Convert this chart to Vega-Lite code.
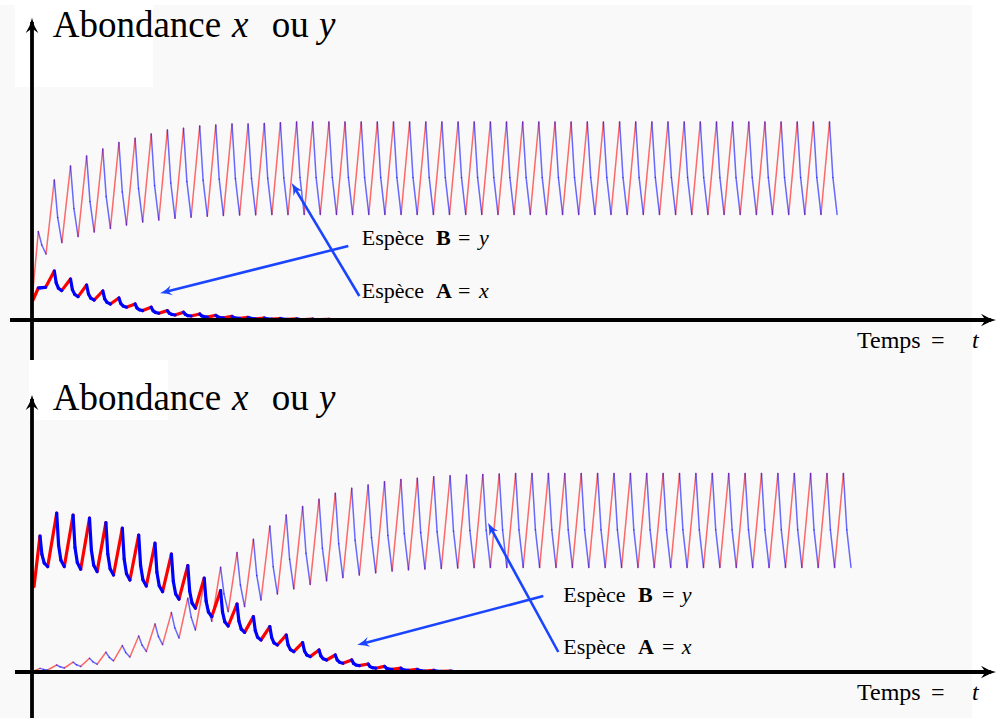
{
"$schema":"https://vega.github.io/schema/vega-lite/v6.json",
"background":"#f9f9f9",
"padding":0,
"spacing":0,
"bounds":"flush",
"config":{"view":{"stroke":null}},
"datasets":{
"top":[
{"s":"B","a":0.1,"b":15,"c":0.63,"d":44.2,"e":0.98,"f":37.5,"g":1.4,"h":33},
{"s":"B","a":1.4,"b":33,"c":2.23,"d":70,"e":2.57,"f":51.2,"g":2.99,"h":38.7},
{"s":"B","a":2.99,"b":38.7,"c":3.85,"d":77,"e":4.19,"f":55.8,"g":4.61,"h":41.7},
{"s":"B","a":4.61,"b":41.7,"c":5.46,"d":82,"e":5.8,"f":59.2,"g":6.22,"h":44},
{"s":"B","a":6.22,"b":44,"c":7.08,"d":85.5,"e":7.42,"f":61.7,"g":7.84,"h":45.8},
{"s":"B","a":7.84,"b":45.8,"c":8.69,"d":88.7,"e":9.03,"f":64,"g":9.45,"h":47.5},
{"s":"B","a":9.45,"b":47.5,"c":10.31,"d":90.9,"e":10.65,"f":65.8,"g":11.07,"h":49},
{"s":"B","a":11.07,"b":49,"c":11.92,"d":93,"e":12.26,"f":67.2,"g":12.68,"h":50},
{"s":"B","a":12.68,"b":50,"c":13.54,"d":95,"e":13.88,"f":68.5,"g":14.3,"h":50.9},
{"s":"B","a":14.3,"b":50.9,"c":15.15,"d":95.9,"e":15.49,"f":69.2,"g":15.91,"h":51.4},
{"s":"B","a":15.91,"b":51.4,"c":16.77,"d":97,"e":17.11,"f":69.9,"g":17.53,"h":51.9},
{"s":"B","a":17.53,"b":51.9,"c":18.38,"d":97.5,"e":18.72,"f":70.4,"g":19.14,"h":52.3},
{"s":"B","a":19.14,"b":52.3,"c":20,"d":98,"e":20.34,"f":70.7,"g":20.76,"h":52.5},
{"s":"B","a":20.76,"b":52.5,"c":21.61,"d":98,"e":21.95,"f":70.8,"g":22.37,"h":52.6},
{"s":"B","a":22.37,"b":52.6,"c":23.23,"d":98.3,"e":23.57,"f":70.9,"g":23.99,"h":52.7},
{"s":"B","a":23.99,"b":52.7,"c":24.84,"d":98.6,"e":25.18,"f":71.1,"g":25.6,"h":52.7},
{"s":"B","a":25.6,"b":52.7,"c":26.46,"d":99,"e":26.8,"f":71.3,"g":27.22,"h":52.8},
{"s":"B","a":27.22,"b":52.8,"c":28.07,"d":99,"e":28.41,"f":71.3,"g":28.83,"h":52.8},
{"s":"B","a":28.83,"b":52.8,"c":29.69,"d":99,"e":30.03,"f":71.3,"g":30.45,"h":52.8},
{"s":"B","a":30.45,"b":52.8,"c":31.3,"d":99,"e":31.64,"f":71.3,"g":32.06,"h":52.8},
{"s":"B","a":32.06,"b":52.8,"c":32.92,"d":99,"e":33.26,"f":71.3,"g":33.68,"h":52.8},
{"s":"B","a":33.68,"b":52.8,"c":34.53,"d":99,"e":34.87,"f":71.3,"g":35.29,"h":52.8},
{"s":"B","a":35.29,"b":52.8,"c":36.15,"d":99,"e":36.49,"f":71.3,"g":36.91,"h":52.8},
{"s":"B","a":36.91,"b":52.8,"c":37.76,"d":99,"e":38.1,"f":71.3,"g":38.52,"h":52.8},
{"s":"B","a":38.52,"b":52.8,"c":39.38,"d":99,"e":39.72,"f":71.3,"g":40.14,"h":52.8},
{"s":"B","a":40.14,"b":52.8,"c":40.99,"d":99,"e":41.33,"f":71.3,"g":41.75,"h":52.8},
{"s":"B","a":41.75,"b":52.8,"c":42.61,"d":99,"e":42.95,"f":71.3,"g":43.37,"h":52.8},
{"s":"B","a":43.37,"b":52.8,"c":44.22,"d":99,"e":44.56,"f":71.3,"g":44.98,"h":52.8},
{"s":"B","a":44.98,"b":52.8,"c":45.84,"d":99,"e":46.18,"f":71.3,"g":46.6,"h":52.8},
{"s":"B","a":46.6,"b":52.8,"c":47.45,"d":99,"e":47.79,"f":71.3,"g":48.21,"h":52.8},
{"s":"B","a":48.21,"b":52.8,"c":49.07,"d":99,"e":49.41,"f":71.3,"g":49.83,"h":52.8},
{"s":"B","a":49.83,"b":52.8,"c":50.68,"d":99,"e":51.02,"f":71.3,"g":51.44,"h":52.8},
{"s":"B","a":51.44,"b":52.8,"c":52.3,"d":99,"e":52.64,"f":71.3,"g":53.06,"h":52.8},
{"s":"B","a":53.06,"b":52.8,"c":53.91,"d":99,"e":54.25,"f":71.3,"g":54.67,"h":52.8},
{"s":"B","a":54.67,"b":52.8,"c":55.53,"d":99,"e":55.87,"f":71.3,"g":56.29,"h":52.8},
{"s":"B","a":56.29,"b":52.8,"c":57.14,"d":99,"e":57.48,"f":71.3,"g":57.9,"h":52.8},
{"s":"B","a":57.9,"b":52.8,"c":58.76,"d":99,"e":59.1,"f":71.3,"g":59.52,"h":52.8},
{"s":"B","a":59.52,"b":52.8,"c":60.37,"d":99,"e":60.71,"f":71.3,"g":61.13,"h":52.8},
{"s":"B","a":61.13,"b":52.8,"c":61.99,"d":99,"e":62.33,"f":71.3,"g":62.75,"h":52.8},
{"s":"B","a":62.75,"b":52.8,"c":63.6,"d":99,"e":63.94,"f":71.3,"g":64.36,"h":52.8},
{"s":"B","a":64.36,"b":52.8,"c":65.22,"d":99,"e":65.56,"f":71.3,"g":65.98,"h":52.8},
{"s":"B","a":65.98,"b":52.8,"c":66.83,"d":99,"e":67.17,"f":71.3,"g":67.59,"h":52.8},
{"s":"B","a":67.59,"b":52.8,"c":68.45,"d":99,"e":68.79,"f":71.3,"g":69.21,"h":52.8},
{"s":"B","a":69.21,"b":52.8,"c":70.06,"d":99,"e":70.4,"f":71.3,"g":70.82,"h":52.8},
{"s":"B","a":70.82,"b":52.8,"c":71.68,"d":99,"e":72.02,"f":71.3,"g":72.44,"h":52.8},
{"s":"B","a":72.44,"b":52.8,"c":73.29,"d":99,"e":73.63,"f":71.3,"g":74.05,"h":52.8},
{"s":"B","a":74.05,"b":52.8,"c":74.91,"d":99,"e":75.25,"f":71.3,"g":75.67,"h":52.8},
{"s":"B","a":75.67,"b":52.8,"c":76.52,"d":99,"e":76.86,"f":71.3,"g":77.28,"h":52.8},
{"s":"B","a":77.28,"b":52.8,"c":78.14,"d":99,"e":78.48,"f":71.3,"g":78.9,"h":52.8},
{"s":"B","a":78.9,"b":52.8,"c":79.75,"d":99,"e":80.09,"f":71.3,"g":80.51,"h":52.8},
{"s":"A","a":0.1,"b":10,"c":0.63,"d":16,"e":0.81,"f":16.1,"i":1.03,"j":16.2,"g":1.35,"h":16.3},
{"s":"A","a":1.35,"b":16.3,"c":2.23,"d":24.5,"e":2.42,"f":18.6,"i":2.64,"j":15.9,"g":2.97,"h":14.7},
{"s":"A","a":2.97,"b":14.7,"c":3.85,"d":20.5,"e":4.04,"f":15.2,"i":4.27,"j":12.8,"g":4.61,"h":11.7},
{"s":"A","a":4.61,"b":11.7,"c":5.46,"d":17.5,"e":5.65,"f":13,"i":5.88,"j":10.9,"g":6.22,"h":10},
{"s":"A","a":6.22,"b":10,"c":7.08,"d":14.5,"e":7.27,"f":10.6,"i":7.5,"j":8.8,"g":7.84,"h":8},
{"s":"A","a":7.84,"b":8,"c":8.69,"d":11,"e":8.88,"f":8.2,"i":9.11,"j":7,"g":9.45,"h":6.4},
{"s":"A","a":9.45,"b":6.4,"c":10.31,"d":8,"e":10.5,"f":6,"i":10.73,"j":5.1,"g":11.07,"h":4.7},
{"s":"A","a":11.07,"b":4.7,"c":11.92,"d":6.4,"e":12.11,"f":4.6,"i":12.34,"j":3.8,"g":12.68,"h":3.4},
{"s":"A","a":12.68,"b":3.4,"c":13.54,"d":4.7,"e":13.73,"f":3.4,"i":13.96,"j":2.8,"g":14.3,"h":2.5},
{"s":"A","a":14.3,"b":2.5,"c":15.15,"d":3.9,"e":15.34,"f":2.8,"i":15.57,"j":2.2,"g":15.91,"h":2},
{"s":"A","a":15.91,"b":2,"c":16.77,"d":3,"e":16.96,"f":2.1,"i":17.19,"j":1.7,"g":17.53,"h":1.5},
{"s":"A","a":17.53,"b":1.5,"c":18.38,"d":2.3,"e":18.57,"f":1.6,"i":18.8,"j":1.2,"g":19.14,"h":1.1},
{"s":"A","a":19.14,"b":1.1,"c":20,"d":1.8,"e":20.19,"f":1.2,"i":20.42,"j":0.9,"g":20.76,"h":0.8},
{"s":"A","a":20.76,"b":0.8,"c":21.61,"d":1.3,"e":21.8,"f":0.9,"i":22.03,"j":0.7,"g":22.37,"h":0.6},
{"s":"A","a":22.37,"b":0.6,"c":23.23,"d":1,"e":23.42,"f":0.6,"i":23.65,"j":0.5,"g":23.99,"h":0.4},
{"s":"A","a":23.99,"b":0.4,"c":24.84,"d":0.75,"e":25.03,"f":0.5,"i":25.26,"j":0.35,"g":25.6,"h":0.3},
{"s":"A","a":25.6,"b":0.3,"c":26.46,"d":0.55,"e":26.65,"f":0.35,"i":26.88,"j":0.25,"g":27.22,"h":0.2},
{"s":"A","a":27.22,"b":0.2,"c":28.07,"d":0.4,"e":28.26,"f":0.25,"i":28.49,"j":0.18,"g":28.83,"h":0.15},
{"s":"A","a":28.83,"b":0.15,"c":29.69,"d":0.3,"e":29.88,"f":0.18,"i":30.11,"j":0.12,"g":30.45,"h":0.1}
],
"bot":[
{"s":"B","a":0.2,"b":0.5,"c":0.8,"d":1.8,"e":1.15,"f":1.3,"g":1.57,"h":1},
{"s":"B","a":1.57,"b":1,"c":2.47,"d":3.5,"e":2.81,"f":2.6,"g":3.23,"h":2},
{"s":"B","a":3.23,"b":2,"c":4.11,"d":4.9,"e":4.45,"f":3.6,"g":4.87,"h":2.8},
{"s":"B","a":4.87,"b":2.8,"c":5.75,"d":6.9,"e":6.09,"f":5.1,"g":6.51,"h":3.9},
{"s":"B","a":6.51,"b":3.9,"c":7.39,"d":9.9,"e":7.73,"f":7.3,"g":8.15,"h":5.6},
{"s":"B","a":8.15,"b":5.6,"c":9.03,"d":13.2,"e":9.37,"f":9.8,"g":9.79,"h":7.5},
{"s":"B","a":9.79,"b":7.5,"c":10.67,"d":18,"e":11.01,"f":13.4,"g":11.43,"h":10.3},
{"s":"B","a":11.43,"b":10.3,"c":12.3,"d":24,"e":12.64,"f":17.8,"g":13.06,"h":13.7},
{"s":"B","a":13.06,"b":13.7,"c":13.94,"d":29.7,"e":14.28,"f":22.1,"g":14.7,"h":17},
{"s":"B","a":14.7,"b":17,"c":15.58,"d":36.9,"e":15.92,"f":27.4,"g":16.34,"h":21},
{"s":"B","a":16.34,"b":21,"c":17.22,"d":44.5,"e":17.56,"f":33,"g":17.98,"h":25.4},
{"s":"B","a":17.98,"b":25.4,"c":18.86,"d":52.4,"e":19.2,"f":39.1,"g":19.62,"h":30.2},
{"s":"B","a":19.62,"b":30.2,"c":20.5,"d":59.7,"e":20.84,"f":43.5,"g":21.26,"h":32.7},
{"s":"B","a":21.26,"b":32.7,"c":22.14,"d":66.4,"e":22.48,"f":48.2,"g":22.9,"h":36},
{"s":"B","a":22.9,"b":36,"c":23.78,"d":73,"e":24.12,"f":52.6,"g":24.54,"h":39},
{"s":"B","a":24.54,"b":39,"c":25.42,"d":78.5,"e":25.76,"f":56.4,"g":26.18,"h":41.6},
{"s":"B","a":26.18,"b":41.6,"c":27.06,"d":82.7,"e":27.4,"f":59.4,"g":27.82,"h":43.8},
{"s":"B","a":27.82,"b":43.8,"c":28.7,"d":86.4,"e":29.04,"f":61.9,"g":29.46,"h":45.6},
{"s":"B","a":29.46,"b":45.6,"c":30.33,"d":89.4,"e":30.67,"f":64.1,"g":31.09,"h":47.2},
{"s":"B","a":31.09,"b":47.2,"c":31.97,"d":91.9,"e":32.31,"f":65.9,"g":32.73,"h":48.5},
{"s":"B","a":32.73,"b":48.5,"c":33.61,"d":93.5,"e":33.95,"f":67.2,"g":34.37,"h":49.6},
{"s":"B","a":34.37,"b":49.6,"c":35.25,"d":95.1,"e":35.59,"f":68.3,"g":36.01,"h":50.5},
{"s":"B","a":36.01,"b":50.5,"c":36.89,"d":96.3,"e":37.23,"f":69.2,"g":37.65,"h":51.1},
{"s":"B","a":37.65,"b":51.1,"c":38.53,"d":96.9,"e":38.87,"f":69.7,"g":39.29,"h":51.5},
{"s":"B","a":39.29,"b":51.5,"c":40.17,"d":97.6,"e":40.51,"f":70.1,"g":40.93,"h":51.8},
{"s":"B","a":40.93,"b":51.8,"c":41.81,"d":98.1,"e":42.15,"f":70.4,"g":42.57,"h":52},
{"s":"B","a":42.57,"b":52,"c":43.45,"d":98.5,"e":43.79,"f":70.7,"g":44.21,"h":52.2},
{"s":"B","a":44.21,"b":52.2,"c":45.08,"d":98.8,"e":45.42,"f":70.9,"g":45.84,"h":52.3},
{"s":"B","a":45.84,"b":52.3,"c":46.72,"d":99,"e":47.06,"f":71,"g":47.48,"h":52.3},
{"s":"B","a":47.48,"b":52.3,"c":48.36,"d":99.2,"e":48.7,"f":71.1,"g":49.12,"h":52.3},
{"s":"B","a":49.12,"b":52.3,"c":50,"d":99.3,"e":50.34,"f":71.1,"g":50.76,"h":52.3},
{"s":"B","a":50.76,"b":52.3,"c":51.64,"d":99.3,"e":51.98,"f":71.1,"g":52.4,"h":52.3},
{"s":"B","a":52.4,"b":52.3,"c":53.28,"d":99.3,"e":53.62,"f":71.1,"g":54.04,"h":52.3},
{"s":"B","a":54.04,"b":52.3,"c":54.92,"d":99.3,"e":55.26,"f":71.1,"g":55.68,"h":52.3},
{"s":"B","a":55.68,"b":52.3,"c":56.56,"d":99.3,"e":56.9,"f":71.1,"g":57.32,"h":52.3},
{"s":"B","a":57.32,"b":52.3,"c":58.2,"d":99.3,"e":58.54,"f":71.1,"g":58.96,"h":52.3},
{"s":"B","a":58.96,"b":52.3,"c":59.84,"d":99.3,"e":60.18,"f":71.1,"g":60.6,"h":52.3},
{"s":"B","a":60.6,"b":52.3,"c":61.47,"d":99.3,"e":61.81,"f":71.1,"g":62.23,"h":52.3},
{"s":"B","a":62.23,"b":52.3,"c":63.11,"d":99.3,"e":63.45,"f":71.1,"g":63.87,"h":52.3},
{"s":"B","a":63.87,"b":52.3,"c":64.75,"d":99.3,"e":65.09,"f":71.1,"g":65.51,"h":52.3},
{"s":"B","a":65.51,"b":52.3,"c":66.39,"d":99.3,"e":66.73,"f":71.1,"g":67.15,"h":52.3},
{"s":"B","a":67.15,"b":52.3,"c":68.03,"d":99.3,"e":68.37,"f":71.1,"g":68.79,"h":52.3},
{"s":"B","a":68.79,"b":52.3,"c":69.67,"d":99.3,"e":70.01,"f":71.1,"g":70.43,"h":52.3},
{"s":"B","a":70.43,"b":52.3,"c":71.31,"d":99.3,"e":71.65,"f":71.1,"g":72.07,"h":52.3},
{"s":"B","a":72.07,"b":52.3,"c":72.95,"d":99.3,"e":73.29,"f":71.1,"g":73.71,"h":52.3},
{"s":"B","a":73.71,"b":52.3,"c":74.59,"d":99.3,"e":74.93,"f":71.1,"g":75.35,"h":52.3},
{"s":"B","a":75.35,"b":52.3,"c":76.23,"d":99.3,"e":76.57,"f":71.1,"g":76.99,"h":52.3},
{"s":"B","a":76.99,"b":52.3,"c":77.86,"d":99.3,"e":78.2,"f":71.1,"g":78.62,"h":52.3},
{"s":"B","a":78.62,"b":52.3,"c":79.5,"d":99.3,"e":79.84,"f":71.1,"g":80.26,"h":52.3},
{"s":"B","a":80.26,"b":52.3,"c":81.14,"d":99.3,"e":81.48,"f":71.1,"g":81.9,"h":52.3},
{"s":"A","a":0.2,"b":42.7,"c":0.8,"d":68,"e":0.99,"f":58.8,"i":1.22,"j":54.5,"g":1.57,"h":52.7},
{"s":"A","a":1.57,"b":52.7,"c":2.47,"d":79.4,"e":2.66,"f":63.4,"i":2.89,"j":55.9,"g":3.23,"h":52.7},
{"s":"A","a":3.23,"b":52.7,"c":4.11,"d":78.5,"e":4.3,"f":62.2,"i":4.53,"j":54.7,"g":4.87,"h":51.4},
{"s":"A","a":4.87,"b":51.4,"c":5.75,"d":76.9,"e":5.94,"f":60.9,"i":6.17,"j":53.4,"g":6.51,"h":50.2},
{"s":"A","a":6.51,"b":50.2,"c":7.39,"d":74.7,"e":7.58,"f":59,"i":7.81,"j":51.6,"g":8.15,"h":48.5},
{"s":"A","a":8.15,"b":48.5,"c":9.03,"d":71.9,"e":9.22,"f":56.4,"i":9.45,"j":49.1,"g":9.79,"h":46},
{"s":"A","a":9.79,"b":46,"c":10.67,"d":68.5,"e":10.86,"f":53.2,"i":11.09,"j":46.1,"g":11.43,"h":43},
{"s":"A","a":11.43,"b":43,"c":12.3,"d":64.4,"e":12.49,"f":49.9,"i":12.72,"j":43.1,"g":13.06,"h":40.2},
{"s":"A","a":13.06,"b":40.2,"c":13.94,"d":59,"e":14.13,"f":45.4,"i":14.36,"j":39.1,"g":14.7,"h":36.4},
{"s":"A","a":14.7,"b":36.4,"c":15.58,"d":53.2,"e":15.77,"f":40.4,"i":16,"j":34.5,"g":16.34,"h":31.9},
{"s":"A","a":16.34,"b":31.9,"c":17.22,"d":46.9,"e":17.41,"f":35.4,"i":17.64,"j":30,"g":17.98,"h":27.7},
{"s":"A","a":17.98,"b":27.7,"c":18.86,"d":40.7,"e":19.05,"f":30.1,"i":19.28,"j":25.1,"g":19.62,"h":23},
{"s":"A","a":19.62,"b":23,"c":20.5,"d":34,"e":20.69,"f":25.5,"i":20.92,"j":21.5,"g":21.26,"h":19.8},
{"s":"A","a":21.26,"b":19.8,"c":22.14,"d":27.7,"e":22.33,"f":20.7,"i":22.56,"j":17.4,"g":22.9,"h":16},
{"s":"A","a":22.9,"b":16,"c":23.78,"d":22.7,"e":23.97,"f":17.2,"i":24.2,"j":14.6,"g":24.54,"h":13.5},
{"s":"A","a":24.54,"b":13.5,"c":25.42,"d":18.5,"e":25.61,"f":13.5,"i":25.84,"j":11.2,"g":26.18,"h":10.2},
{"s":"A","a":26.18,"b":10.2,"c":27.06,"d":14.7,"e":27.25,"f":10.5,"i":27.48,"j":8.5,"g":27.82,"h":7.7},
{"s":"A","a":27.82,"b":7.7,"c":28.7,"d":11,"e":28.89,"f":8,"i":29.12,"j":6.6,"g":29.46,"h":6},
{"s":"A","a":29.46,"b":6,"c":30.33,"d":8.5,"e":30.52,"f":6,"i":30.75,"j":4.9,"g":31.09,"h":4.4},
{"s":"A","a":31.09,"b":4.4,"c":31.97,"d":6,"e":32.16,"f":4.3,"i":32.39,"j":3.5,"g":32.73,"h":3.2},
{"s":"A","a":32.73,"b":3.2,"c":33.61,"d":4,"e":33.8,"f":2.7,"i":34.03,"j":2.2,"g":34.37,"h":1.9},
{"s":"A","a":34.37,"b":1.9,"c":35.25,"d":2.8,"e":35.44,"f":1.9,"i":35.67,"j":1.5,"g":36.01,"h":1.3},
{"s":"A","a":36.01,"b":1.3,"c":36.89,"d":1.9,"e":37.08,"f":1.2,"i":37.31,"j":0.9,"g":37.65,"h":0.8},
{"s":"A","a":37.65,"b":0.8,"c":38.53,"d":1.3,"e":38.72,"f":0.8,"i":38.95,"j":0.6,"g":39.29,"h":0.5},
{"s":"A","a":39.29,"b":0.5,"c":40.17,"d":0.8,"e":40.36,"f":0.5,"i":40.59,"j":0.36,"g":40.93,"h":0.3},
{"s":"A","a":40.93,"b":0.3,"c":41.81,"d":0.5,"e":42,"f":0.29,"i":42.23,"j":0.2,"g":42.57,"h":0.15}
]
},
"vconcat":[
{
"width":1002,"height":360,
"layer":[
{"data":{"values":[{"a":-1.7,"b":116.5,"c":12.1,"d":157.5},{"a":-3.2,"b":157.5,"c":97,"d":160},{"a":94,"b":-20,"c":97,"d":160}]},
 "mark":{"type":"rect","fill":"#ffffff"},
 "encoding":{"x":{"field":"a","type":"quantitative","scale":{"domain":[-3.2,97],"nice":false,"zero":false},"axis":null},"x2":{"field":"c"},
 "y":{"field":"b","type":"quantitative","scale":{"domain":[-20,160],"nice":false,"zero":false},"axis":null},"y2":{"field":"d"}}},
{"data":{"name":"top"},"mark":{"type":"rule","color":"#ff0000","strokeCap":"round"},
 "encoding":{"x":{"field":"a","type":"quantitative","scale":{"domain":[-3.2,97],"nice":false,"zero":false},"axis":null},"x2":{"field":"c"},
 "y":{"field":"b","type":"quantitative","scale":{"domain":[-20,160],"nice":false,"zero":false},"axis":null},"y2":{"field":"d"},
 "strokeWidth":{"field":"s","type":"ordinal","scale":{"domain":["A","B"],"range":[3.2,1.5]},"legend":null},
 "opacity":{"field":"s","type":"ordinal","scale":{"domain":["A","B"],"range":[1,0.58]},"legend":null}}},
{"data":{"name":"top"},"mark":{"type":"rule","color":"#0000ff","strokeCap":"round"},
 "encoding":{"x":{"field":"c","type":"quantitative","scale":{"domain":[-3.2,97],"nice":false,"zero":false},"axis":null},"x2":{"field":"e"},
 "y":{"field":"d","type":"quantitative","scale":{"domain":[-20,160],"nice":false,"zero":false},"axis":null},"y2":{"field":"f"},
 "strokeWidth":{"field":"s","type":"ordinal","scale":{"domain":["A","B"],"range":[3.2,1.5]},"legend":null},
 "opacity":{"field":"s","type":"ordinal","scale":{"domain":["A","B"],"range":[1,0.58]},"legend":null}}},
{"data":{"name":"top"},"transform":[{"filter":"datum.s==='B'"}],"mark":{"type":"rule","color":"#0000ff","strokeCap":"round","strokeWidth":1.5,"opacity":0.58},
 "encoding":{"x":{"field":"e","type":"quantitative","scale":{"domain":[-3.2,97],"nice":false,"zero":false},"axis":null},"x2":{"field":"g"},
 "y":{"field":"f","type":"quantitative","scale":{"domain":[-20,160],"nice":false,"zero":false},"axis":null},"y2":{"field":"h"}}},
{"data":{"name":"top"},"transform":[{"filter":"datum.s==='A'"}],"mark":{"type":"rule","color":"#0000ff","strokeCap":"round","strokeWidth":3.2},
 "encoding":{"x":{"field":"e","type":"quantitative","scale":{"domain":[-3.2,97],"nice":false,"zero":false},"axis":null},"x2":{"field":"i"},
 "y":{"field":"f","type":"quantitative","scale":{"domain":[-20,160],"nice":false,"zero":false},"axis":null},"y2":{"field":"j"}}},
{"data":{"name":"top"},"transform":[{"filter":"datum.s==='A'"}],"mark":{"type":"rule","color":"#0000ff","strokeCap":"round","strokeWidth":3.2},
 "encoding":{"x":{"field":"i","type":"quantitative","scale":{"domain":[-3.2,97],"nice":false,"zero":false},"axis":null},"x2":{"field":"g"},
 "y":{"field":"j","type":"quantitative","scale":{"domain":[-20,160],"nice":false,"zero":false},"axis":null},"y2":{"field":"h"}}},
{"data":{"values":[{"a":-2.2,"b":0,"c":95.9,"d":0},{"a":0,"b":-20,"c":0,"d":149}]},
 "mark":{"type":"rule","color":"#000000","strokeWidth":3.8},
 "encoding":{"x":{"field":"a","type":"quantitative","scale":{"domain":[-3.2,97],"nice":false,"zero":false},"axis":null},"x2":{"field":"c"},
 "y":{"field":"b","type":"quantitative","scale":{"domain":[-20,160],"nice":false,"zero":false},"axis":null},"y2":{"field":"d"}}},
{"data":{"values":[{"t":96.4,"v":0}]},
 "mark":{"type":"point","filled":true,"color":"#000000","opacity":1,"size":900,"angle":90,"shape":"M0,0 Q0.12,0.55 0.42,1 Q0.12,0.78 0,0.72 Q-0.12,0.78 -0.42,1 Q-0.12,0.55 0,0 Z"},
 "encoding":{"x":{"field":"t","type":"quantitative","scale":{"domain":[-3.2,97],"nice":false,"zero":false},"axis":null},
 "y":{"field":"v","type":"quantitative","scale":{"domain":[-20,160],"nice":false,"zero":false},"axis":null}}},
{"data":{"values":[{"t":0,"v":151}]},
 "mark":{"type":"point","filled":true,"color":"#000000","opacity":1,"size":900,"angle":0,"shape":"M0,0 Q0.12,0.55 0.42,1 Q0.12,0.78 0,0.72 Q-0.12,0.78 -0.42,1 Q-0.12,0.55 0,0 Z"},
 "encoding":{"x":{"field":"t","type":"quantitative","scale":{"domain":[-3.2,97],"nice":false,"zero":false},"axis":null},
 "y":{"field":"v","type":"quantitative","scale":{"domain":[-20,160],"nice":false,"zero":false},"axis":null}}},
{"data":{"values":[{"a":31.63,"b":37,"c":13.29,"d":13.95},{"a":32.73,"b":12,"c":26.23,"d":66.35}]},
 "mark":{"type":"rule","color":"#1a44ff","strokeWidth":2.6},
 "encoding":{"x":{"field":"a","type":"quantitative","scale":{"domain":[-3.2,97],"nice":false,"zero":false},"axis":null},"x2":{"field":"c"},
 "y":{"field":"b","type":"quantitative","scale":{"domain":[-20,160],"nice":false,"zero":false},"axis":null},"y2":{"field":"d"}}},
{"data":{"values":[{"t":12.8,"v":13.35}]},
 "mark":{"type":"point","filled":true,"color":"#1a44ff","opacity":1,"size":576,"angle":256,"shape":"M0,0 Q0.12,0.55 0.42,1 Q0.12,0.78 0,0.72 Q-0.12,0.78 -0.42,1 Q-0.12,0.55 0,0 Z"},
 "encoding":{"x":{"field":"t","type":"quantitative","scale":{"domain":[-3.2,97],"nice":false,"zero":false},"axis":null},
 "y":{"field":"v","type":"quantitative","scale":{"domain":[-20,160],"nice":false,"zero":false},"axis":null}}},
{"data":{"values":[{"t":25.97,"v":68.5}]},
 "mark":{"type":"point","filled":true,"color":"#1a44ff","opacity":1,"size":576,"angle":329,"shape":"M0,0 Q0.12,0.55 0.42,1 Q0.12,0.78 0,0.72 Q-0.12,0.78 -0.42,1 Q-0.12,0.55 0,0 Z"},
 "encoding":{"x":{"field":"t","type":"quantitative","scale":{"domain":[-3.2,97],"nice":false,"zero":false},"axis":null},
 "y":{"field":"v","type":"quantitative","scale":{"domain":[-20,160],"nice":false,"zero":false},"axis":null}}},
{"data":{"values":[{"t":2.07,"v":141.35,"txt":"Abondance"},{"t":23.97,"v":141.35,"txt":"ou"}]},
 "mark":{"type":"text","font":"Liberation Serif","fontSize":37,"align":"left","baseline":"alphabetic","color":"#000000"},
 "encoding":{"x":{"field":"t","type":"quantitative","scale":{"domain":[-3.2,97],"nice":false,"zero":false},"axis":null},
 "y":{"field":"v","type":"quantitative","scale":{"domain":[-20,160],"nice":false,"zero":false},"axis":null},"text":{"field":"txt"}}},
{"data":{"values":[{"t":20.0,"v":141.35,"txt":"x"},{"t":28.7,"v":141.35,"txt":"y"}]},
 "mark":{"type":"text","font":"Liberation Serif","fontSize":37,"fontStyle":"italic","align":"left","baseline":"alphabetic","color":"#000000"},
 "encoding":{"x":{"field":"t","type":"quantitative","scale":{"domain":[-3.2,97],"nice":false,"zero":false},"axis":null},
 "y":{"field":"v","type":"quantitative","scale":{"domain":[-20,160],"nice":false,"zero":false},"axis":null},"text":{"field":"txt"}}},
{"data":{"values":[{"t":82.5,"v":-14.15,"txt":"Temps"},{"t":89.9,"v":-14.15,"txt":"="}]},
 "mark":{"type":"text","font":"Liberation Serif","fontSize":24,"align":"left","baseline":"alphabetic","color":"#000000"},
 "encoding":{"x":{"field":"t","type":"quantitative","scale":{"domain":[-3.2,97],"nice":false,"zero":false},"axis":null},
 "y":{"field":"v","type":"quantitative","scale":{"domain":[-20,160],"nice":false,"zero":false},"axis":null},"text":{"field":"txt"}}},
{"data":{"values":[{"t":94.0,"v":-14.15,"txt":"t"}]},
 "mark":{"type":"text","font":"Liberation Serif","fontSize":24,"fontStyle":"italic","align":"left","baseline":"alphabetic","color":"#000000"},
 "encoding":{"x":{"field":"t","type":"quantitative","scale":{"domain":[-3.2,97],"nice":false,"zero":false},"axis":null},
 "y":{"field":"v","type":"quantitative","scale":{"domain":[-20,160],"nice":false,"zero":false},"axis":null},"text":{"field":"txt"}}},
{"data":{"values":[{"t":32.97,"v":37.5,"txt":"Espèce"},{"t":42.6,"v":37.5,"txt":"="},{"t":32.97,"v":10.85,"txt":"Espèce"},{"t":42.6,"v":10.85,"txt":"="}]},
 "mark":{"type":"text","font":"Liberation Serif","fontSize":22,"align":"left","baseline":"alphabetic","color":"#000000"},
 "encoding":{"x":{"field":"t","type":"quantitative","scale":{"domain":[-3.2,97],"nice":false,"zero":false},"axis":null},
 "y":{"field":"v","type":"quantitative","scale":{"domain":[-20,160],"nice":false,"zero":false},"axis":null},"text":{"field":"txt"}}},
{"data":{"values":[{"t":40.4,"v":37.5,"txt":"B"},{"t":40.4,"v":10.85,"txt":"A"}]},
 "mark":{"type":"text","font":"Liberation Serif","fontSize":22,"fontWeight":"bold","align":"left","baseline":"alphabetic","color":"#000000"},
 "encoding":{"x":{"field":"t","type":"quantitative","scale":{"domain":[-3.2,97],"nice":false,"zero":false},"axis":null},
 "y":{"field":"v","type":"quantitative","scale":{"domain":[-20,160],"nice":false,"zero":false},"axis":null},"text":{"field":"txt"}}},
{"data":{"values":[{"t":44.7,"v":37.5,"txt":"y"},{"t":44.7,"v":10.85,"txt":"x"}]},
 "mark":{"type":"text","font":"Liberation Serif","fontSize":22,"fontStyle":"italic","align":"left","baseline":"alphabetic","color":"#000000"},
 "encoding":{"x":{"field":"t","type":"quantitative","scale":{"domain":[-3.2,97],"nice":false,"zero":false},"axis":null},
 "y":{"field":"v","type":"quantitative","scale":{"domain":[-20,160],"nice":false,"zero":false},"axis":null},"text":{"field":"txt"}}}
]
},
{
"width":1002,"height":358,
"layer":[
{"data":{"values":[{"a":-0.3,"b":126,"c":13.6,"d":156},{"a":94,"b":-23,"c":97,"d":156}]},
 "mark":{"type":"rect","fill":"#ffffff"},
 "encoding":{"x":{"field":"a","type":"quantitative","scale":{"domain":[-3.2,97],"nice":false,"zero":false},"axis":null},"x2":{"field":"c"},
 "y":{"field":"b","type":"quantitative","scale":{"domain":[-23,156],"nice":false,"zero":false},"axis":null},"y2":{"field":"d"}}},
{"data":{"name":"bot"},"mark":{"type":"rule","color":"#ff0000","strokeCap":"round"},
 "encoding":{"x":{"field":"a","type":"quantitative","scale":{"domain":[-3.2,97],"nice":false,"zero":false},"axis":null},"x2":{"field":"c"},
 "y":{"field":"b","type":"quantitative","scale":{"domain":[-23,156],"nice":false,"zero":false},"axis":null},"y2":{"field":"d"},
 "strokeWidth":{"field":"s","type":"ordinal","scale":{"domain":["A","B"],"range":[3.2,1.5]},"legend":null},
 "opacity":{"field":"s","type":"ordinal","scale":{"domain":["A","B"],"range":[1,0.58]},"legend":null}}},
{"data":{"name":"bot"},"mark":{"type":"rule","color":"#0000ff","strokeCap":"round"},
 "encoding":{"x":{"field":"c","type":"quantitative","scale":{"domain":[-3.2,97],"nice":false,"zero":false},"axis":null},"x2":{"field":"e"},
 "y":{"field":"d","type":"quantitative","scale":{"domain":[-23,156],"nice":false,"zero":false},"axis":null},"y2":{"field":"f"},
 "strokeWidth":{"field":"s","type":"ordinal","scale":{"domain":["A","B"],"range":[3.2,1.5]},"legend":null},
 "opacity":{"field":"s","type":"ordinal","scale":{"domain":["A","B"],"range":[1,0.58]},"legend":null}}},
{"data":{"name":"bot"},"transform":[{"filter":"datum.s==='B'"}],"mark":{"type":"rule","color":"#0000ff","strokeCap":"round","strokeWidth":1.5,"opacity":0.58},
 "encoding":{"x":{"field":"e","type":"quantitative","scale":{"domain":[-3.2,97],"nice":false,"zero":false},"axis":null},"x2":{"field":"g"},
 "y":{"field":"f","type":"quantitative","scale":{"domain":[-23,156],"nice":false,"zero":false},"axis":null},"y2":{"field":"h"}}},
{"data":{"name":"bot"},"transform":[{"filter":"datum.s==='A'"}],"mark":{"type":"rule","color":"#0000ff","strokeCap":"round","strokeWidth":3.2},
 "encoding":{"x":{"field":"e","type":"quantitative","scale":{"domain":[-3.2,97],"nice":false,"zero":false},"axis":null},"x2":{"field":"i"},
 "y":{"field":"f","type":"quantitative","scale":{"domain":[-23,156],"nice":false,"zero":false},"axis":null},"y2":{"field":"j"}}},
{"data":{"name":"bot"},"transform":[{"filter":"datum.s==='A'"}],"mark":{"type":"rule","color":"#0000ff","strokeCap":"round","strokeWidth":3.2},
 "encoding":{"x":{"field":"i","type":"quantitative","scale":{"domain":[-3.2,97],"nice":false,"zero":false},"axis":null},"x2":{"field":"g"},
 "y":{"field":"j","type":"quantitative","scale":{"domain":[-23,156],"nice":false,"zero":false},"axis":null},"y2":{"field":"h"}}},
{"data":{"values":[{"a":-1.7,"b":0,"c":95.9,"d":0},{"a":0,"b":-23,"c":0,"d":136.5}]},
 "mark":{"type":"rule","color":"#000000","strokeWidth":3.8},
 "encoding":{"x":{"field":"a","type":"quantitative","scale":{"domain":[-3.2,97],"nice":false,"zero":false},"axis":null},"x2":{"field":"c"},
 "y":{"field":"b","type":"quantitative","scale":{"domain":[-23,156],"nice":false,"zero":false},"axis":null},"y2":{"field":"d"}}},
{"data":{"values":[{"t":96.4,"v":0}]},
 "mark":{"type":"point","filled":true,"color":"#000000","opacity":1,"size":900,"angle":90,"shape":"M0,0 Q0.12,0.55 0.42,1 Q0.12,0.78 0,0.72 Q-0.12,0.78 -0.42,1 Q-0.12,0.55 0,0 Z"},
 "encoding":{"x":{"field":"t","type":"quantitative","scale":{"domain":[-3.2,97],"nice":false,"zero":false},"axis":null},
 "y":{"field":"v","type":"quantitative","scale":{"domain":[-23,156],"nice":false,"zero":false},"axis":null}}},
{"data":{"values":[{"t":0,"v":138.5}]},
 "mark":{"type":"point","filled":true,"color":"#000000","opacity":1,"size":900,"angle":0,"shape":"M0,0 Q0.12,0.55 0.42,1 Q0.12,0.78 0,0.72 Q-0.12,0.78 -0.42,1 Q-0.12,0.55 0,0 Z"},
 "encoding":{"x":{"field":"t","type":"quantitative","scale":{"domain":[-3.2,97],"nice":false,"zero":false},"axis":null},
 "y":{"field":"v","type":"quantitative","scale":{"domain":[-23,156],"nice":false,"zero":false},"axis":null}}},
{"data":{"values":[{"a":51.13,"b":38,"c":33.01,"d":14.15},{"a":52.63,"b":10,"c":45.84,"d":72.3}]},
 "mark":{"type":"rule","color":"#1a44ff","strokeWidth":2.6},
 "encoding":{"x":{"field":"a","type":"quantitative","scale":{"domain":[-3.2,97],"nice":false,"zero":false},"axis":null},"x2":{"field":"c"},
 "y":{"field":"b","type":"quantitative","scale":{"domain":[-23,156],"nice":false,"zero":false},"axis":null},"y2":{"field":"d"}}},
{"data":{"values":[{"t":32.53,"v":13.5}]},
 "mark":{"type":"point","filled":true,"color":"#1a44ff","opacity":1,"size":576,"angle":255,"shape":"M0,0 Q0.12,0.55 0.42,1 Q0.12,0.78 0,0.72 Q-0.12,0.78 -0.42,1 Q-0.12,0.55 0,0 Z"},
 "encoding":{"x":{"field":"t","type":"quantitative","scale":{"domain":[-3.2,97],"nice":false,"zero":false},"axis":null},
 "y":{"field":"v","type":"quantitative","scale":{"domain":[-23,156],"nice":false,"zero":false},"axis":null}}},
{"data":{"values":[{"t":45.6,"v":74.5}]},
 "mark":{"type":"point","filled":true,"color":"#1a44ff","opacity":1,"size":576,"angle":331,"shape":"M0,0 Q0.12,0.55 0.42,1 Q0.12,0.78 0,0.72 Q-0.12,0.78 -0.42,1 Q-0.12,0.55 0,0 Z"},
 "encoding":{"x":{"field":"t","type":"quantitative","scale":{"domain":[-3.2,97],"nice":false,"zero":false},"axis":null},
 "y":{"field":"v","type":"quantitative","scale":{"domain":[-23,156],"nice":false,"zero":false},"axis":null}}},
{"data":{"values":[{"t":2.07,"v":131,"txt":"Abondance"},{"t":23.97,"v":131,"txt":"ou"}]},
 "mark":{"type":"text","font":"Liberation Serif","fontSize":37,"align":"left","baseline":"alphabetic","color":"#000000"},
 "encoding":{"x":{"field":"t","type":"quantitative","scale":{"domain":[-3.2,97],"nice":false,"zero":false},"axis":null},
 "y":{"field":"v","type":"quantitative","scale":{"domain":[-23,156],"nice":false,"zero":false},"axis":null},"text":{"field":"txt"}}},
{"data":{"values":[{"t":20.0,"v":131,"txt":"x"},{"t":28.7,"v":131,"txt":"y"}]},
 "mark":{"type":"text","font":"Liberation Serif","fontSize":37,"fontStyle":"italic","align":"left","baseline":"alphabetic","color":"#000000"},
 "encoding":{"x":{"field":"t","type":"quantitative","scale":{"domain":[-3.2,97],"nice":false,"zero":false},"axis":null},
 "y":{"field":"v","type":"quantitative","scale":{"domain":[-23,156],"nice":false,"zero":false},"axis":null},"text":{"field":"txt"}}},
{"data":{"values":[{"t":82.5,"v":-14,"txt":"Temps"},{"t":89.9,"v":-14,"txt":"="}]},
 "mark":{"type":"text","font":"Liberation Serif","fontSize":24,"align":"left","baseline":"alphabetic","color":"#000000"},
 "encoding":{"x":{"field":"t","type":"quantitative","scale":{"domain":[-3.2,97],"nice":false,"zero":false},"axis":null},
 "y":{"field":"v","type":"quantitative","scale":{"domain":[-23,156],"nice":false,"zero":false},"axis":null},"text":{"field":"txt"}}},
{"data":{"values":[{"t":94.0,"v":-14,"txt":"t"}]},
 "mark":{"type":"text","font":"Liberation Serif","fontSize":24,"fontStyle":"italic","align":"left","baseline":"alphabetic","color":"#000000"},
 "encoding":{"x":{"field":"t","type":"quantitative","scale":{"domain":[-3.2,97],"nice":false,"zero":false},"axis":null},
 "y":{"field":"v","type":"quantitative","scale":{"domain":[-23,156],"nice":false,"zero":false},"axis":null},"text":{"field":"txt"}}},
{"data":{"values":[{"t":53.13,"v":34.85,"txt":"Espèce"},{"t":63.0,"v":34.85,"txt":"="},{"t":53.13,"v":9,"txt":"Espèce"},{"t":63.0,"v":9,"txt":"="}]},
 "mark":{"type":"text","font":"Liberation Serif","fontSize":22,"align":"left","baseline":"alphabetic","color":"#000000"},
 "encoding":{"x":{"field":"t","type":"quantitative","scale":{"domain":[-3.2,97],"nice":false,"zero":false},"axis":null},
 "y":{"field":"v","type":"quantitative","scale":{"domain":[-23,156],"nice":false,"zero":false},"axis":null},"text":{"field":"txt"}}},
{"data":{"values":[{"t":60.6,"v":34.85,"txt":"B"},{"t":60.6,"v":9,"txt":"A"}]},
 "mark":{"type":"text","font":"Liberation Serif","fontSize":22,"fontWeight":"bold","align":"left","baseline":"alphabetic","color":"#000000"},
 "encoding":{"x":{"field":"t","type":"quantitative","scale":{"domain":[-3.2,97],"nice":false,"zero":false},"axis":null},
 "y":{"field":"v","type":"quantitative","scale":{"domain":[-23,156],"nice":false,"zero":false},"axis":null},"text":{"field":"txt"}}},
{"data":{"values":[{"t":64.97,"v":34.85,"txt":"y"},{"t":64.97,"v":9,"txt":"x"}]},
 "mark":{"type":"text","font":"Liberation Serif","fontSize":22,"fontStyle":"italic","align":"left","baseline":"alphabetic","color":"#000000"},
 "encoding":{"x":{"field":"t","type":"quantitative","scale":{"domain":[-3.2,97],"nice":false,"zero":false},"axis":null},
 "y":{"field":"v","type":"quantitative","scale":{"domain":[-23,156],"nice":false,"zero":false},"axis":null},"text":{"field":"txt"}}}
]
}
]
}
